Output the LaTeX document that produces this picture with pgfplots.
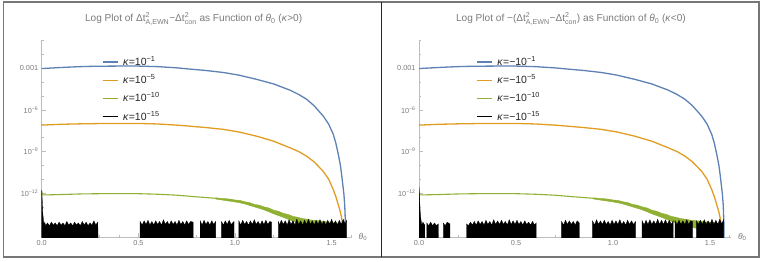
\documentclass[border=0pt]{standalone}
\usepackage{fontspec}
\setmainfont{Liberation Sans}
\usepackage{amsmath}
\usepackage{pgfplots}
\pgfplotsset{compat=1.18}
\usepackage{pgfplotstable}
\definecolor{mblue}{HTML}{5E81B5}
\definecolor{morange}{HTML}{E19C24}
\definecolor{mgreen}{HTML}{8FB032}
\definecolor{labgray}{HTML}{7A7A7A}
\definecolor{axgray}{HTML}{BDBDBD}
\definecolor{framegray}{HTML}{777777}
\tikzset{blk/.style={draw=black, fill=black, line width=0.3pt},
         gband/.style={draw=mgreen, fill=mgreen, line width=0.4pt}}

\pgfplotstableread{
x y
0 9.8e-4
0.05 1.07e-3
0.1 1.17e-3
0.15 1.26e-3
0.2 1.35e-3
0.25 1.41e-3
0.3 1.45e-3
0.4 1.48e-3
0.5 1.48e-3
0.6 1.35e-3
0.7 1.10e-3
0.77 8.9e-4
0.85 7.1e-4
0.94 5.1e-4
1.02 3.3e-4
1.11 1.66e-4
1.2 7.6e-5
1.285 2.7e-5
1.33 1.32e-5
1.371 5.9e-6
1.41 2.0e-6
1.457 3.6e-7
1.485 9.5e-8
1.509 1.7e-8
1.522 4.0e-9
1.535 6.0e-10
1.545 1.12e-10
1.552 2.1e-11
1.558 4.0e-12
1.564 7.6e-13
1.568 1.26e-13
1.571 1e-14
1.5725 3.2e-16
}\bluedata

\pgfplotstableread{
x y
0 8.1e-8
0.1 9.3e-8
0.2 1.0e-7
0.3 1.05e-7
0.4 1.07e-7
0.5 1.07e-7
0.6 9.8e-8
0.7 8.1e-8
0.767 6.8e-8
0.85 5.4e-8
0.94 4.0e-8
1.02 2.6e-8
1.112 1.29e-8
1.2 5.6e-9
1.285 1.86e-9
1.33 1.0e-9
1.371 4.6e-10
1.41 1.78e-10
1.457 3.7e-11
1.485 1.0e-11
1.509 1.74e-12
1.522 5.6e-13
1.535 1.41e-13
1.545 4.5e-14
1.552 1.62e-14
1.557 5e-15
1.561 1.26e-15
1.563 3.2e-16
}\orangedata

\pgfplotstableread{
x y
0 1.41e-12
0.004 7.4e-13
0.05 7.6e-13
0.1 7.9e-13
0.2 8.7e-13
0.3 9.1e-13
0.4 9.3e-13
0.5 9.1e-13
0.6 8.3e-13
0.7 7.1e-13
0.8 5.4e-13
0.85 4.8e-13
0.9 4.2e-13
}\greendata

% noisy part of the kappa=1e-10 curve: upper edge then lower edge of the band
\pgfplotstableread{
x y
0.9 4.7e-13
0.925 4.2e-13
0.95 4.0e-13
0.975 3.7e-13
1.0 3.2e-13
1.025 3.0e-13
1.05 2.4e-13
1.075 2.1e-13
1.1 1.55e-13
1.125 1.35e-13
1.15 1.02e-13
1.175 8.5e-14
1.2 5.9e-14
1.225 4.9e-14
1.25 3.5e-14
1.275 2.9e-14
1.3 2.1e-14
1.325 1.8e-14
1.35 1.45e-14
1.375 1.3e-14
1.4 1.12e-14
1.425 1.05e-14
1.45 9.5e-15
1.475 8.5e-15
1.5 7.9e-15
1.53 7e-15
1.56 6.3e-15
1.56 1.6e-15
1.53 1.8e-15
1.5 2.0e-15
1.475 2.3e-15
1.45 2.6e-15
1.425 3.0e-15
1.4 3.5e-15
1.375 4.4e-15
1.35 5.5e-15
1.325 7.0e-15
1.3 9.3e-15
1.275 1.3e-14
1.25 1.78e-14
1.225 2.4e-14
1.2 3.2e-14
1.175 4.5e-14
1.15 6.2e-14
1.125 8.0e-14
1.1 1.02e-13
1.075 1.3e-13
1.05 1.66e-13
1.025 2.0e-13
1.0 2.3e-13
0.975 2.6e-13
0.95 2.9e-13
0.925 3.3e-13
0.9 3.7e-13
}\greenband

\pgfplotsset{
  legend image code/.code={\draw[#1, line width=1.3pt] (0pt,0pt) -- (15.6pt,0pt); \path[draw=none, fill=none] (0pt,-2pt) rectangle (20.6pt,2pt);},
}

\begin{document}
\begin{tikzpicture}
\useasboundingbox (0pt,0pt) rectangle (763pt,262pt);

% ---------- left panel ----------
\begin{axis}[at={(41.7pt,25pt)}, anchor=south west, scale only axis, width=310pt, height=197pt,
  xmin=0, xmax=1.604, ymode=log, ymin=6.8e-16, ymax=0.113,
  axis lines=left, axis line style={-, draw=axgray, line width=0.6pt},
  tick align=inside, major tick length=4pt, minor tick length=2.2pt,
  tick style={draw=axgray, line width=0.5pt},
  xtick={0,0.5,1,1.5}, xticklabels={0.0,0.5,1.0,1.5},
  minor xtick={0.1,0.2,0.3,0.4,0.6,0.7,0.8,0.9,1.1,1.2,1.3,1.4,1.6},
  ytick={1e-3,1e-6,1e-9,1e-12},
  yticklabels={0.001,10\textsuperscript{−6},10\textsuperscript{−9},10\textsuperscript{−12}},
  minor ytick={1e-1,1e-2,1e-4,1e-5,1e-7,1e-8,1e-10,1e-11,1e-13,1e-14,1e-15},
  tick label style={font=\fontsize{7.3}{8}\selectfont, text=labgray},
  xlabel={\textit{θ}\textsubscript{0}},
  xlabel style={at={(axis description cs:1,0)}, anchor=west, xshift=3.5pt, font=\fontsize{8.5}{9}\selectfont, text=labgray},
  title={Log Plot of $\text{Δt}^{\text{2}}_{\text{A,EWN}}$−$\text{Δt}^{\text{2}}_{\text{con}}$ as Function of \textit{θ}\textsubscript{0} (\textit{κ}>0)},
  title style={font=\fontsize{10.1}{11}\selectfont, text=labgray, at={(axis description cs:0.49,1)}, anchor=base, yshift=12.3pt},
  legend cell align=left,
  legend style={draw=none, fill=none, at={(axis description cs:0.1935,0.914)}, anchor=north west, font=\fontsize{10.5}{11}\selectfont, text=black!85, row sep=8.8pt, inner sep=0pt,
    nodes={inner sep=0pt, text height=8pt, text depth=1.5pt}}]
\addplot[mblue, line width=1.3pt] table {\bluedata};
\addlegendentry{\textit{κ}=10\textsuperscript{−1}}
\addplot[morange, line width=1.3pt] table {\orangedata};
\addlegendentry{\textit{κ}=10\textsuperscript{−5}}
\addplot[mgreen, line width=1.1pt] table {\greendata};
\addlegendentry{\textit{κ}=10\textsuperscript{−10}}
\addplot[gband, forget plot] table {\greenband};
\addplot[blk] coordinates {(0,1e-16) (0,1.7e-12) (0.003,3e-13) (0.006,3e-14) (0.009,1.2e-14) (0.012,5e-15) (0.016,8e-15) (0.02,4.5e-15) (0.03,7e-15) (0.04,4.5e-15) (0.05,8e-15) (0.06,5e-15) (0.07,7e-15) (0.08,4.5e-15) (0.09,8e-15) (0.10,5e-15) (0.11,7e-15) (0.12,4.5e-15) (0.13,9e-15) (0.14,5e-15) (0.15,7e-15) (0.16,4.5e-15) (0.17,8e-15) (0.18,5e-15) (0.19,7e-15) (0.20,4.5e-15) (0.21,9e-15) (0.22,5e-15) (0.23,8e-15) (0.24,4.5e-15) (0.25,7e-15) (0.26,5e-15) (0.27,1e-14) (0.28,5e-15) (0.29,8e-15) (0.293,1e-16)};
\addlegendentry{\textit{κ}=10\textsuperscript{−15}}
\addplot[blk, forget plot] coordinates {(0.509,1e-16) (0.509,9e-15) (0.52,5e-15) (0.53,1e-14) (0.54,5.5e-15) (0.55,1.1e-14) (0.56,5e-15) (0.57,9e-15) (0.58,5e-15) (0.59,1e-14) (0.60,5.5e-15) (0.61,9e-15) (0.62,5e-15) (0.63,1.2e-14) (0.64,5.5e-15) (0.65,9e-15) (0.66,5e-15) (0.67,1e-14) (0.68,5.5e-15) (0.69,9e-15) (0.70,5e-15) (0.71,1.1e-14) (0.72,5.5e-15) (0.73,9e-15) (0.74,5e-15) (0.75,1e-14) (0.76,5.5e-15) (0.77,9e-15) (0.784,8e-15) (0.784,1e-16)};
\addplot[blk, forget plot] coordinates {(0.82,1e-16) (0.82,1e-14) (0.83,5e-15) (0.84,1.1e-14) (0.85,5.5e-15) (0.86,9e-15) (0.87,5e-15) (0.88,1e-14) (0.89,5.5e-15) (0.90,9e-15) (0.90,1e-16)};
\addplot[blk, forget plot] coordinates {(0.93,1e-16) (0.93,9e-15) (0.94,5e-15) (0.95,1e-14) (0.96,5.5e-15) (0.97,1.1e-14) (0.98,5.5e-15) (0.995,9e-15) (0.995,1e-16)};
\addplot[blk, forget plot] coordinates {(1.02,1e-16) (1.02,1e-14) (1.03,5e-15) (1.04,1.1e-14) (1.05,5.5e-15) (1.06,9e-15) (1.07,5e-15) (1.08,1e-14) (1.09,5.5e-15) (1.10,1.2e-14) (1.11,5.5e-15) (1.12,9e-15) (1.13,5e-15) (1.14,1e-14) (1.15,5.5e-15) (1.16,1.1e-14) (1.17,5.5e-15) (1.18,9e-15) (1.19,8e-15) (1.19,1e-16)};
\addplot[blk, forget plot] coordinates {(1.224,1e-16) (1.224,9e-15) (1.23,5e-15) (1.24,1.1e-14) (1.25,5.5e-15) (1.26,1e-14) (1.27,5e-15) (1.28,1.2e-14) (1.29,5.5e-15) (1.30,1e-14) (1.31,5e-15) (1.32,1.3e-14) (1.33,5.5e-15) (1.34,1e-14) (1.35,5e-15) (1.36,1.1e-14) (1.37,5.5e-15) (1.38,1.3e-14) (1.39,5.5e-15) (1.40,1e-14) (1.41,5e-15) (1.42,1.1e-14) (1.43,5.5e-15) (1.44,1.2e-14) (1.45,5.5e-15) (1.46,1e-14) (1.47,5e-15) (1.48,1.1e-14) (1.49,5.5e-15) (1.50,1.3e-14) (1.51,5.5e-15) (1.52,1e-14) (1.53,5e-15) (1.54,1.1e-14) (1.55,5.5e-15) (1.56,1.3e-14) (1.57,6e-15) (1.578,1.1e-14) (1.578,1e-16)};
\end{axis}

% ---------- right panel ----------
\begin{axis}[at={(419pt,25pt)}, anchor=south west, scale only axis, width=312pt, height=197pt,
  xmin=0, xmax=1.608, ymode=log, ymin=6.8e-16, ymax=0.113,
  axis lines=left, axis line style={-, draw=axgray, line width=0.6pt},
  tick align=inside, major tick length=4pt, minor tick length=2.2pt,
  tick style={draw=axgray, line width=0.5pt},
  xtick={0,0.5,1,1.5}, xticklabels={0.0,0.5,1.0,1.5},
  minor xtick={0.1,0.2,0.3,0.4,0.6,0.7,0.8,0.9,1.1,1.2,1.3,1.4,1.6},
  ytick={1e-3,1e-6,1e-9,1e-12},
  yticklabels={0.001,10\textsuperscript{−6},10\textsuperscript{−9},10\textsuperscript{−12}},
  minor ytick={1e-1,1e-2,1e-4,1e-5,1e-7,1e-8,1e-10,1e-11,1e-13,1e-14,1e-15},
  tick label style={font=\fontsize{7.3}{8}\selectfont, text=labgray},
  xlabel={\textit{θ}\textsubscript{0}},
  xlabel style={at={(axis description cs:1,0)}, anchor=west, xshift=3.5pt, font=\fontsize{8.5}{9}\selectfont, text=labgray},
  title={Log Plot of −($\text{Δt}^{\text{2}}_{\text{A,EWN}}$−$\text{Δt}^{\text{2}}_{\text{con}}$) as Function of \textit{θ}\textsubscript{0} (\textit{κ}<0)},
  title style={font=\fontsize{10.1}{11}\selectfont, text=labgray, at={(axis description cs:0.487,1)}, anchor=base, yshift=12.3pt},
  legend cell align=left,
  legend style={draw=none, fill=none, at={(axis description cs:0.1827,0.914)}, anchor=north west, font=\fontsize{10.5}{11}\selectfont, text=black!85, row sep=8.8pt, inner sep=0pt,
    nodes={inner sep=0pt, text height=8pt, text depth=1.5pt}}]
\addplot[mblue, line width=1.3pt] table {\bluedata};
\addlegendentry{\textit{κ}=−10\textsuperscript{−1}}
\addplot[morange, line width=1.3pt] table {\orangedata};
\addlegendentry{\textit{κ}=−10\textsuperscript{−5}}
\addplot[mgreen, line width=1.1pt] table {\greendata};
\addlegendentry{\textit{κ}=−10\textsuperscript{−10}}
\addplot[gband, forget plot] table {\greenband};
\addplot[blk] coordinates {(0,1e-16) (0,3e-12) (0.003,4e-13) (0.006,5e-14) (0.01,1.2e-14) (0.015,5e-15) (0.02,8e-15) (0.03,5e-15) (0.03,1e-16)};
\addlegendentry{\textit{κ}=−10\textsuperscript{−15}}
\addplot[blk, forget plot] coordinates {(0.04,1e-16) (0.04,7e-15) (0.05,4.5e-15) (0.06,8e-15) (0.07,4.5e-15) (0.08,7e-15) (0.09,4.5e-15) (0.10,6e-15) (0.10,1e-16)};
\addplot[blk, forget plot] coordinates {(0.125,1e-16) (0.125,7e-15) (0.135,4.5e-15) (0.145,8e-15) (0.159,6e-15) (0.159,1e-16)};
\addplot[blk, forget plot] coordinates {(0.245,1e-16) (0.245,6e-15) (0.255,4.5e-15) (0.265,8e-15) (0.275,5e-15) (0.285,9e-15) (0.295,5e-15) (0.305,1e-14) (0.315,5.5e-15) (0.325,9e-15) (0.335,5e-15) (0.345,1.1e-14) (0.355,5.5e-15) (0.365,9e-15) (0.375,5e-15) (0.385,1.2e-14) (0.395,5.5e-15) (0.405,1e-14) (0.415,5.5e-15) (0.425,1.1e-14) (0.435,5.5e-15) (0.445,9e-15) (0.455,5e-15) (0.465,1.2e-14) (0.475,5.5e-15) (0.485,1e-14) (0.495,5.5e-15) (0.505,1.1e-14) (0.515,5.5e-15) (0.525,9e-15) (0.535,5e-15) (0.545,1e-14) (0.555,5.5e-15) (0.565,8e-15) (0.575,5e-15) (0.585,9e-15) (0.595,5e-15) (0.604,7e-15) (0.604,1e-16)};
\addplot[blk, forget plot] coordinates {(0.735,1e-16) (0.735,9e-15) (0.745,5e-15) (0.755,1.1e-14) (0.765,5.5e-15) (0.775,1e-14) (0.785,5.5e-15) (0.795,9e-15) (0.805,5e-15) (0.815,1e-14) (0.826,7e-15) (0.826,1e-16)};
\addplot[blk, forget plot] coordinates {(0.894,1e-16) (0.894,1e-14) (0.905,5e-15) (0.915,1.2e-14) (0.925,5.5e-15) (0.935,1e-14) (0.945,5.5e-15) (0.955,1.1e-14) (0.965,5.5e-15) (0.975,9e-15) (0.985,5e-15) (0.995,1.1e-14) (1.005,5.5e-15) (1.015,1e-14) (1.025,5.5e-15) (1.035,1.2e-14) (1.045,5.5e-15) (1.055,9e-15) (1.065,5e-15) (1.075,1.1e-14) (1.085,5.5e-15) (1.095,1e-14) (1.105,5.5e-15) (1.117,9e-15) (1.117,1e-16)};
\addplot[blk, forget plot] coordinates {(1.15,1e-16) (1.15,1e-14) (1.16,5e-15) (1.17,1.1e-14) (1.18,5.5e-15) (1.19,1.2e-14) (1.20,5.5e-15) (1.21,1e-14) (1.22,5.5e-15) (1.23,1.3e-14) (1.24,5.5e-15) (1.25,1.1e-14) (1.26,5.5e-15) (1.27,1.2e-14) (1.28,5.5e-15) (1.29,1.1e-14) (1.30,5.5e-15) (1.31,1e-14) (1.31,1e-16)};
\addplot[blk, forget plot] coordinates {(1.32,1e-16) (1.32,1e-14) (1.33,5.5e-15) (1.34,1.1e-14) (1.35,5.5e-15) (1.36,1e-14) (1.37,5.5e-15) (1.38,1.2e-14) (1.39,5.5e-15) (1.40,1e-14) (1.41,9e-15) (1.41,1e-16)};
\addplot[blk, forget plot] coordinates {(1.43,1e-16) (1.43,1e-14) (1.44,5.5e-15) (1.45,1.1e-14) (1.46,5.5e-15) (1.47,1.2e-14) (1.48,5.5e-15) (1.49,1e-14) (1.50,5.5e-15) (1.51,1.3e-14) (1.52,5.5e-15) (1.53,1.1e-14) (1.54,5.5e-15) (1.55,1.3e-14) (1.56,6e-15) (1.57,1.2e-14) (1.57,1e-16)};
\end{axis}

\draw[framegray, line width=1.6pt] (3.5pt,4.7pt) rectangle (759pt,260.2pt);
\draw[black!85, line width=1.6pt] (381.3pt,4.7pt) -- (381.3pt,260.2pt);
\end{tikzpicture}
\end{document}
